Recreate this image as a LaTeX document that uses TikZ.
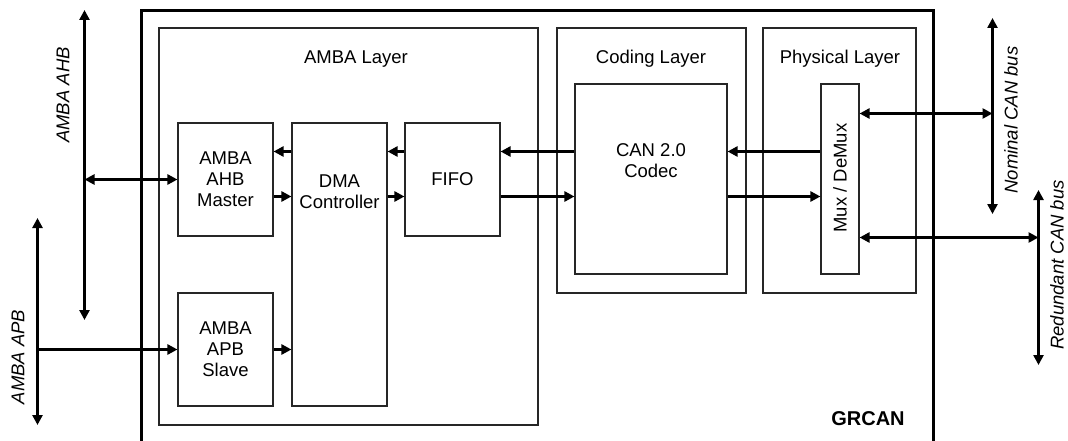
\documentclass[tikz,border=0pt]{standalone}
\usepackage{fontspec}
\setmainfont{Liberation Sans}
\usetikzlibrary{arrows.meta}
\begin{document}
\begin{tikzpicture}[x=1pt,y=-1pt,
  every node/.style={font=\fontsize{18.5}{21}\selectfont, align=center, inner sep=0pt},
  blk/.style={draw=black!85, line width=1.1pt, rectangle},
  arr/.style={line width=3pt, -{Triangle[length=10,width=10]}},
  darr/.style={line width=3pt, {Triangle[length=10,width=10]}-{Triangle[length=10,width=10]}},
  buslbl/.style={font=\fontsize{18.5}{21}\selectfont\itshape, rotate=90},
  outer/.style={line width=3pt}]
\useasboundingbox (0,0) rectangle (1068,441);
% outer GRCAN frame (open at the bottom)
\draw[outer] (141.5,441) -- (141.5,10.5) -- (933.5,10.5) -- (933.5,441);
\node[font=\fontsize{20}{24}\selectfont\bfseries] (grcan) at (868,419) {GRCAN};
% layers
\node[blk, minimum width=379, minimum height=397] (amba) at (348.5,226.5) {};
\node[blk, minimum width=189, minimum height=265] (coding) at (651.5,160.5) {};
\node[blk, minimum width=153, minimum height=265] (phys) at (839.5,160.5) {};
\node (ambat) at (356,59) {AMBA Layer};
\node (codingt) at (651,59) {Coding Layer};
\node (physt) at (840,59) {Physical Layer};
% blocks
\node[blk, minimum width=95, minimum height=113] (master) at (225.5,179.5) {AMBA\\AHB\\Master};
\node[blk, minimum width=95, minimum height=113] (slave) at (225.5,349.5) {AMBA\\APB\\Slave};
\node[blk, minimum width=95, minimum height=283] (dma) at (339.5,264.5) {};
\node (dmat) at (339.5,192) {DMA\\Controller};
\node[blk, minimum width=95, minimum height=113] (fifo) at (452.5,179.5) {FIFO};
\node[blk, minimum width=152, minimum height=190] (codec) at (651,179) {};
\node (codect) at (651,161) {CAN 2.0\\Codec};
\node[blk, minimum width=38, minimum height=190] (mux) at (840,179) {};
\node[rotate=90] (muxt) at (840,178) {Mux / DeMux};
% row coordinates
\coordinate (ra) at (0,151.5);
\coordinate (rb) at (0,196.5);
% internal arrows
\draw[arr] (dma.west |- ra) -- (master.east |- ra);
\draw[arr] (master.east |- rb) -- (dma.west |- rb);
\draw[arr] (fifo.west |- ra) -- (dma.east |- ra);
\draw[arr] (dma.east |- rb) -- (fifo.west |- rb);
\draw[arr] (codec.west |- ra) -- (fifo.east |- ra);
\draw[arr] (fifo.east |- rb) -- (codec.west |- rb);
\draw[arr] (mux.west |- ra) -- (codec.east |- ra);
\draw[arr] (codec.east |- rb) -- (mux.west |- rb);
\draw[arr] (slave.east) -- (dma.west |- slave.east);
% AMBA AHB bus
\coordinate (ahbT) at (84.5,10);
\coordinate (ahbB) at (84.5,320);
\draw[darr] (ahbB) -- (ahbT);
\draw[darr] (ahbT |- master.west) -- (master.west);
\node[buslbl] (ahbl) at (63,95) {AMBA AHB};
% AMBA APB bus
\coordinate (apbT) at (37.5,218);
\coordinate (apbB) at (37.5,425);
\draw[darr] (apbB) -- (apbT);
\draw[arr] (apbT |- slave.west) -- (slave.west);
\node[buslbl] (apbl) at (18,357) {AMBA APB};
% Nominal CAN bus
\coordinate (nomT) at (992.5,18);
\coordinate (nomB) at (992.5,214);
\coordinate (rn) at (0,113.5);
\draw[darr] (nomB) -- (nomT);
\draw[darr] (mux.east |- rn) -- (nomT |- rn);
\node[buslbl] (noml) at (1011,120) {Nominal CAN bus};
% Redundant CAN bus
\coordinate (redT) at (1038.5,190);
\coordinate (redB) at (1038.5,365);
\coordinate (rr) at (0,237.5);
\draw[darr] (redB) -- (redT);
\draw[darr] (mux.east |- rr) -- (redT |- rr);
\node[buslbl] (redl) at (1057,265) {Redundant CAN bus};
\end{tikzpicture}
\end{document}
